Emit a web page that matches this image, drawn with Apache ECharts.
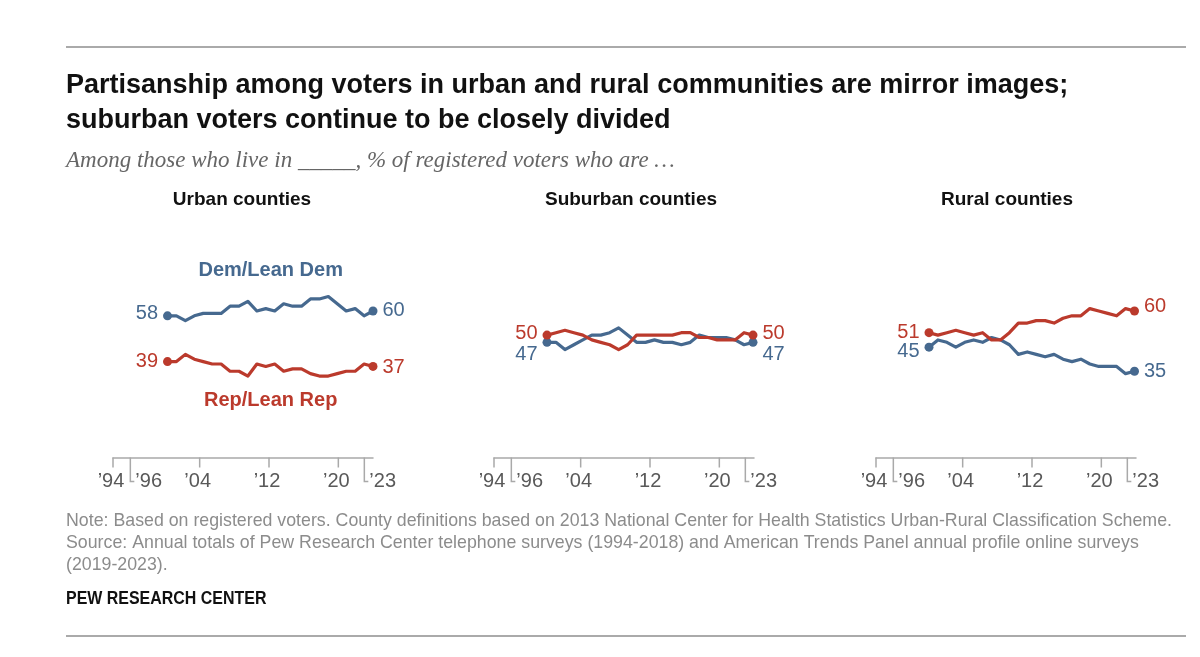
<!DOCTYPE html>
<html><head><meta charset="utf-8">
<script src="https://cdn.jsdelivr.net/npm/echarts@6/dist/echarts.min.js"></script>
<style>html,body{margin:0;padding:0;background:#fff}#c{width:1200px;height:657px}</style>
</head><body><div id="c"></div>
<script>
// ---------------- DATA ----------------
const pointYears = [2000,2001,2002,2003,2004,2005,2006,2007,2008,2009,2010,2011,2012,2013,2014,2015,2016,2017,2018,2019,2020,2021,2022,2023];
const panelTitles = ['Urban counties', 'Suburban counties', 'Rural counties'];
const seriesNames = ['Dem/Lean Dem', 'Rep/Lean Rep'];
const urbanDem    = [58,58,56,58,59,59,59,62,62,64,60,61,60,63,62,62,65,65,66,63,60,61,58,60];
const urbanRep    = [39,39,42,40,39,38,38,35,35,33,38,37,38,35,36,36,34,33,33,34,35,35,38,37];
const suburbanDem = [47,47,44,46,48,50,50,51,53,50,47,47,48,47,47,46,47,50,49,49,49,48,46,47];
const suburbanRep = [50,51,52,51,50,48,47,46,44,46,50,50,50,50,50,51,51,49,49,48,48,48,51,50];
const ruralDem    = [45,48,47,45,47,48,47,49,48,46,42,43,42,41,42,40,39,40,38,37,37,37,34,35];
const ruralRep    = [51,50,51,52,51,50,51,48,48,51,55,55,56,56,55,57,58,58,61,60,59,58,61,60];
const tickYears   = [1994, 1996, 2004, 2012, 2020, 2023];
const tickLabels  = ['\u201994', '\u201996', '\u201904', '\u201912', '\u201920', '\u201923'];
const bracketYears = [1996, 2023];
const titleLines = ['Partisanship among voters in urban and rural communities are mirror images;',
                    'suburban voters continue to be closely divided'];
const subtitle = 'Among those who live in _____, % of registered voters who are \u2026';
const noteLines = ['Note: Based on registered voters. County definitions based on 2013 National Center for Health Statistics Urban-Rural Classification Scheme.',
  'Source: Annual totals of Pew Research Center telephone surveys (1994-2018) and American Trends Panel annual profile online surveys',
  '(2019-2023).'];
const sourceLabel = 'PEW RESEARCH CENTER';

// ---------------- LAYOUT / STYLE ----------------
const BLUE = '#46698f', RED = '#bb3a2c', AXIS = '#a9a9a9';
const SANS = '"Liberation Sans", Arial, sans-serif';
const AX_TOP = 215, AX_BOTTOM = 457.5;
const DATA_TOP = 214.6, DATA_H = 241;
const panels = [
  {axisLeft: 113, dataLeft: 167.5, dataWidth: 205.5, titleX: 242,  dem: urbanDem,    rep: urbanRep,    demOff: [-2.5, -1], repOff: [0, 1]},
  {axisLeft: 494, dataLeft: 547,   dataWidth: 206,   titleX: 631,  dem: suburbanDem, rep: suburbanRep, demOff: [12.5, 12.5], repOff: [-2, -2]},
  {axisLeft: 876, dataLeft: 929,   dataWidth: 205.5, titleX: 1007, dem: ruralDem,    rep: ruralRep,    demOff: [4.5, 0.5], repOff: [0, -5]}
];

const grid = [], xAxis = [], yAxis = [], series = [];
panels.forEach((p, i) => {
  grid.push({left: p.axisLeft, top: AX_TOP, width: 260, height: AX_BOTTOM - AX_TOP, outerBoundsMode: 'none'});
  xAxis.push({gridIndex: i, type: 'value', min: 1994, max: 2024, axisLine: {show: true, onZero: false, lineStyle: {color: AXIS, width: 1.5}},
              axisTick: {show: false}, axisLabel: {show: false}, splitLine: {show: false}});
  yAxis.push({gridIndex: i, type: 'value', min: 0, max: 1, show: false});
});
panels.forEach((p, i) => {
  grid.push({left: p.dataLeft, top: DATA_TOP, width: p.dataWidth, height: DATA_H, outerBoundsMode: 'none'});
  xAxis.push({gridIndex: 3 + i, type: 'category', data: pointYears, boundaryGap: false, show: false});
  yAxis.push({gridIndex: 3 + i, type: 'value', min: 0, max: 100, show: false});
});

function buildData(vals, color, offs) {
  const n = vals.length;
  return vals.map((v, i) => {
    if (i === 0 || i === n - 1) {
      const first = i === 0;
      return {value: v, symbolSize: 9,
        label: {show: true, position: first ? 'left' : 'right', distance: 5, offset: [0, first ? offs[0] : offs[1]],
                color: color, fontFamily: SANS, fontSize: 20}};
    }
    return {value: v, symbolSize: 0, label: {show: false}};
  });
}

panels.forEach((p, i) => {
  series.push({
    type: 'custom', xAxisIndex: i, yAxisIndex: i, clip: false, silent: true,
    data: tickYears.map((y, k) => [y, k]),
    renderItem: (params, api) => {
      const yr = api.value(0), k = api.value(1);
      const pt = api.coord([yr, 0]);
      const x = pt[0], y = pt[1];
      if (bracketYears.indexOf(yr) >= 0) {
        return {type: 'group', children: [
          {type: 'polyline', shape: {points: [[x, y], [x, y + 24], [x + 4, y + 24]]}, style: {stroke: AXIS, lineWidth: 1.5, fill: null}},
          {type: 'text', x: x + 5, y: y + 23.5, style: {text: tickLabels[k], font: '20px ' + SANS, fill: '#595959', align: 'left', verticalAlign: 'middle'}}
        ]};
      }
      return {type: 'group', children: [
        {type: 'line', shape: {x1: x, y1: y, x2: x, y2: y + 10}, style: {stroke: AXIS, lineWidth: 1.5}},
        {type: 'text', x: x - 2, y: y + 23.5, style: {text: tickLabels[k], font: '20px ' + SANS, fill: '#595959', align: 'center', verticalAlign: 'middle'}}
      ]};
    }
  });
  [[p.dem, BLUE, p.demOff, seriesNames[0]], [p.rep, RED, p.repOff, seriesNames[1]]].forEach(([vals, color, offs, name]) => {
    series.push({
      type: 'line', name: name, xAxisIndex: 3 + i, yAxisIndex: 3 + i,
      data: buildData(vals, color, offs), showSymbol: true, showAllSymbol: true, symbol: 'circle',
      itemStyle: {color: color}, lineStyle: {color: color, width: 3.2, cap: 'round', join: 'round'},
      clip: false, silent: true, animation: false
    });
  });
});

const graphic = [
  {type: 'line', shape: {x1: 66, y1: 47, x2: 1186, y2: 47}, style: {stroke: '#aaaaaa', lineWidth: 2}},
  {type: 'line', shape: {x1: 66, y1: 636, x2: 1186, y2: 636}, style: {stroke: '#aaaaaa', lineWidth: 2}},
  {type: 'text', x: 66, y: 86, style: {text: titleLines[0], font: 'bold 27px ' + SANS, fill: '#111', align: 'left', verticalAlign: 'middle'}},
  {type: 'text', x: 66, y: 121, style: {text: titleLines[1], font: 'bold 27px ' + SANS, fill: '#111', align: 'left', verticalAlign: 'middle'}},
  {type: 'text', x: 66, y: 161, style: {text: subtitle, font: 'italic 23px "Liberation Serif", serif', fill: '#666', align: 'left', verticalAlign: 'middle'}},
  {type: 'text', x: 270.7, y: 270, style: {text: seriesNames[0], font: 'bold 20px ' + SANS, fill: BLUE, align: 'center', verticalAlign: 'middle'}},
  {type: 'text', x: 270.7, y: 400.7, style: {text: seriesNames[1], font: 'bold 20px ' + SANS, fill: RED, align: 'center', verticalAlign: 'middle'}},
  {type: 'text', x: 66, y: 599, scaleX: 0.84, style: {text: sourceLabel, font: 'bold 19px ' + SANS, fill: '#111', align: 'left', verticalAlign: 'middle'}}
];
panels.forEach((p, i) => graphic.push({type: 'text', x: p.titleX, y: 200, style: {text: panelTitles[i], font: 'bold 19px ' + SANS, fill: '#111', align: 'center', verticalAlign: 'middle'}}));
noteLines.forEach((t, i) => graphic.push({type: 'text', x: 66, y: 521 + 22 * i, scaleX: 0.935, style: {text: t, font: '19px ' + SANS, fill: '#8c8c8c', align: 'left', verticalAlign: 'middle'}}));

const chart = echarts.init(document.getElementById('c'), null, {renderer: 'canvas'});
chart.setOption({animation: false, backgroundColor: '#fff', grid, xAxis, yAxis, series, graphic});
</script></body></html>
